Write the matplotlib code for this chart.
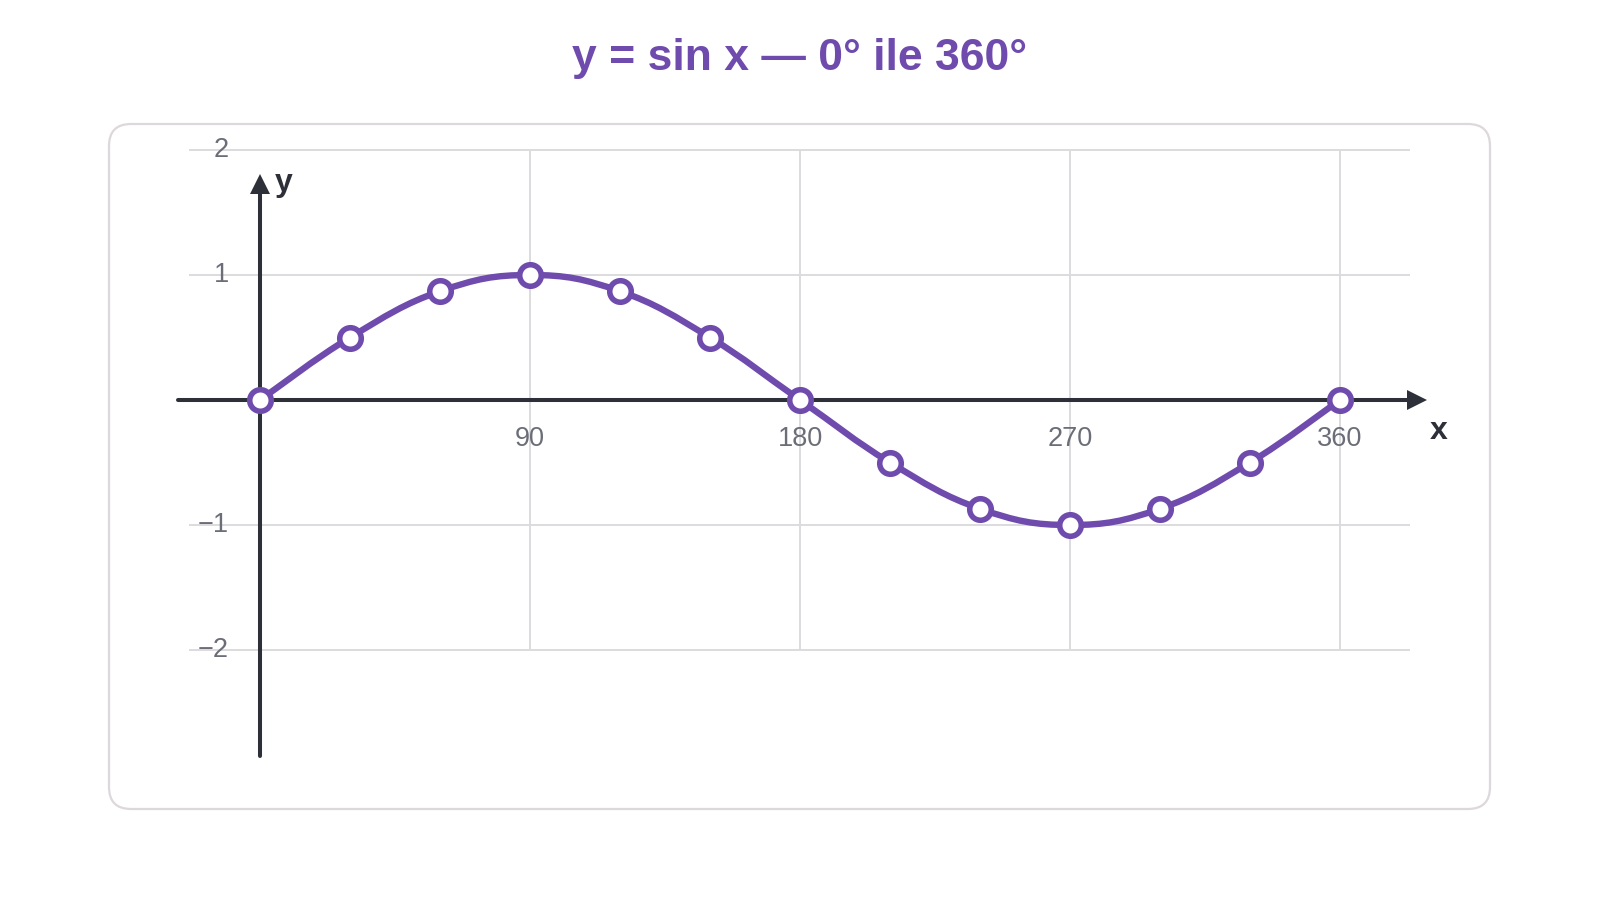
import matplotlib
matplotlib.use("Agg")
import matplotlib.pyplot as plt
from matplotlib.path import Path
from matplotlib.patches import PathPatch, FancyBboxPatch

plt.rcParams['font.family'] = ['Liberation Sans', 'DejaVu Sans']

angles = [0, 30, 60, 90, 120, 150, 180, 210, 240, 270, 300, 330, 360]
sin_vals = [0, 0.5, 0.87, 1, 0.87, 0.5, 0, -0.5, -0.87, -1, -0.87, -0.5, 0]
x_ticks = [90, 180, 270, 360]
y_ticks = [2, 1, -1, -2]
y_tick_labels = ['2', '1', '\u22121', '\u22122']
title = 'y = sin x \u2014 0\u00b0 ile 360\u00b0'

purple = '#6f4bad'
dark = '#2d3039'
grid_c = '#dcdadd'
tick_c = '#6b6e78'

fig = plt.figure(figsize=(16, 9), dpi=100)
ax = fig.add_axes([0, 0, 1, 1])
ax.set_xlim(-260 / 3, 1340 / 3)
ax.set_ylim(-4.0, 3.2)
ax.axis('off')

# rounded card frame (inches)
frame = FancyBboxPatch((1.09, 0.91), 13.81, 6.85,
                       boxstyle='round,pad=0,rounding_size=0.22',
                       transform=fig.dpi_scale_trans,
                       facecolor='none', edgecolor='#ddd8dc', lw=1.6, zorder=-1)
fig.patches.append(frame)

# grid
ax.hlines(y_ticks, -23.7, 383.3, color=grid_c, lw=1.4, zorder=1)
ax.vlines(x_ticks, -2, 2, color=grid_c, lw=1.4, zorder=1)

# tick labels
for yv, lab in zip(y_ticks, y_tick_labels):
    ax.text(-10.3, yv, lab, ha='right', va='center', fontsize=19.5, color=tick_c, zorder=2)
for xv in x_ticks:
    ax.text(xv, -0.31, str(xv), ha='center', va='center', fontsize=19.5, color=tick_c, zorder=2)

# axes with arrows
ax.plot([-27.3, 386], [0, 0], color=dark, lw=2.9, solid_capstyle='round', zorder=3)
ax.plot([385.5], [0], marker='>', markersize=15, color=dark, mew=0, zorder=3)
ax.plot([0, 0], [-2.85, 1.75], color=dark, lw=2.9, solid_capstyle='round', zorder=3)
ax.plot([0], [1.732], marker='^', markersize=15, color=dark, mew=0, zorder=3)
ax.text(5, 1.74, 'y', ha='left', va='center', fontsize=23, fontweight='bold', color=dark)
ax.text(393, -0.25, 'x', ha='center', va='center', fontsize=23, fontweight='bold', color=dark)

# smooth curve through the points (cubic bezier, catmull-rom style)
verts = [(angles[0], sin_vals[0])]
codes = [Path.MOVETO]
n = len(angles)
t = 0.4
for i in range(n - 1):
    x0, y0 = angles[max(i - 1, 0)], sin_vals[max(i - 1, 0)]
    x1, y1 = angles[i], sin_vals[i]
    x2, y2 = angles[i + 1], sin_vals[i + 1]
    x3, y3 = angles[min(i + 2, n - 1)], sin_vals[min(i + 2, n - 1)]
    c1 = (x1 + (x2 - x0) * t / 2, y1 + (y2 - y0) * t / 2)
    c2 = (x2 - (x3 - x1) * t / 2, y2 - (y3 - y1) * t / 2)
    verts += [c1, c2, (x2, y2)]
    codes += [Path.CURVE4] * 3
curve = PathPatch(Path(verts, codes), facecolor='none', edgecolor=purple,
                  lw=4.6, capstyle='round', joinstyle='round', zorder=4)
ax.add_patch(curve)

ax.plot(angles, sin_vals, linestyle='none', marker='o', markersize=15.5,
        markerfacecolor='white', markeredgecolor=purple, mew=4, zorder=5)

fig.text(0.5, 1 - 70 / 900, title, ha='center', va='baseline',
         fontsize=32, fontweight='bold', color=purple)

fig.savefig('out.png', dpi=100)
